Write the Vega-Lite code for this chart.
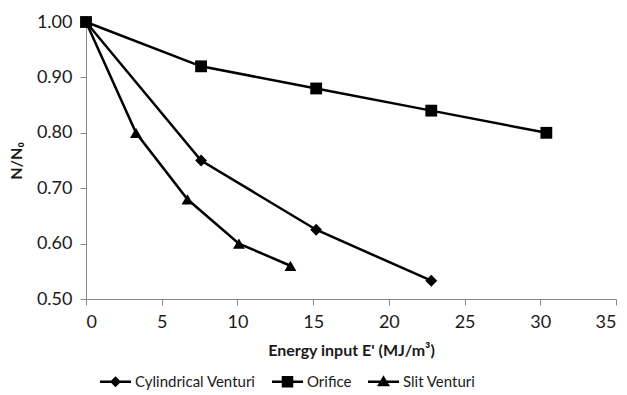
{
  "$schema": "https://vega.github.io/schema/vega-lite/v6.json",
  "width": 530,
  "height": 277,
  "autosize": "none",
  "padding": {"left": 86, "top": 22, "right": 11, "bottom": 96},
  "background": "white",
  "config": {
    "view": {"stroke": null},
    "font": "Lato",
    "axis": {"labelFont": "Lato", "titleFont": "Lato", "labelColor": "#1a1a1a", "titleColor": "#1a1a1a", "domainColor": "#888", "tickColor": "#888", "grid": false, "labelFontSize": 18, "titleFontSize": 16}
  },
  "data": {
    "values": [
      {"series": "Cylindrical Venturi", "e": 0, "n": 1.0},
      {"series": "Cylindrical Venturi", "e": 7.6, "n": 0.75},
      {"series": "Cylindrical Venturi", "e": 15.2, "n": 0.625},
      {"series": "Cylindrical Venturi", "e": 22.8, "n": 0.533},
      {"series": "Orifice", "e": 0, "n": 1.0},
      {"series": "Orifice", "e": 7.6, "n": 0.92},
      {"series": "Orifice", "e": 15.2, "n": 0.88},
      {"series": "Orifice", "e": 22.8, "n": 0.84},
      {"series": "Orifice", "e": 30.4, "n": 0.80},
      {"series": "Slit Venturi", "e": 0, "n": 1.0},
      {"series": "Slit Venturi", "e": 3.3, "n": 0.80},
      {"series": "Slit Venturi", "e": 6.7, "n": 0.68},
      {"series": "Slit Venturi", "e": 10.1, "n": 0.60},
      {"series": "Slit Venturi", "e": 13.5, "n": 0.56}
    ]
  },
  "encoding": {
    "x": {"field": "e", "type": "quantitative", "scale": {"domain": [0, 35], "nice": false, "zero": false},
      "axis": {"values": [0, 5, 10, 15, 20, 25, 30, 35], "title": "Energy input E' (MJ/m³)", "titleFontWeight": "bold", "titlePadding": 11, "labelPadding": 8, "tickSize": 6}},
    "y": {"field": "n", "type": "quantitative", "scale": {"domain": [0.5, 1.0], "nice": false, "zero": false},
      "axis": {"values": [0.5, 0.6, 0.7, 0.8, 0.9, 1.0], "format": ".2f", "title": "N/N₀", "titleFontWeight": "bold", "titlePadding": 12, "labelPadding": 8, "tickSize": 6}}
  },
  "resolve": {"scale": {"shape": "independent"}, "legend": {"shape": "independent"}},
  "layer": [
    {
      "mark": {"type": "line", "color": "black", "strokeWidth": 2.5},
      "encoding": {"detail": {"field": "series"}}
    },
    {
      "mark": {"type": "point", "filled": true, "color": "black", "opacity": 1, "size": 140},
      "encoding": {
        "shape": {"field": "series", "type": "nominal", "legend": null,
          "scale": {"domain": ["Cylindrical Venturi", "Orifice", "Slit Venturi"], "range": ["diamond", "square", "triangle-up"]}}
      }
    },
    {
      "mark": {"type": "point", "filled": true, "color": "black", "opacity": 0, "size": 140},
      "encoding": {
        "shape": {"field": "series", "type": "nominal",
          "scale": {"domain": ["Cylindrical Venturi", "Orifice", "Slit Venturi"], "range": [
            "M-3.1,-0.24H3.1V0.24H-3.1Z M0,-1.1L1.1,0L0,1.1L-1.1,0Z",
            "M-3.1,-0.24H3.1V0.24H-3.1Z M-1.15,-1.15H1.15V1.15H-1.15Z",
            "M-3.1,-0.24H3.1V0.24H-3.1Z M0,-1.3L1.3,0.9L-1.3,0.9Z"]},
          "legend": {
            "orient": "none", "legendX": 10, "legendY": 352, "direction": "horizontal", "title": null,
            "labelFont": "Lato", "labelFontSize": 15, "labelColor": "#1a1a1a",
            "symbolSize": 100, "symbolFillColor": "black", "symbolStrokeWidth": 0, "symbolOpacity": 1, "symbolStrokeColor": "black",
            "labelOffset": 12, "columnPadding": 12, "symbolOffset": 12
          }
        }
      }
    }
  ]
}
